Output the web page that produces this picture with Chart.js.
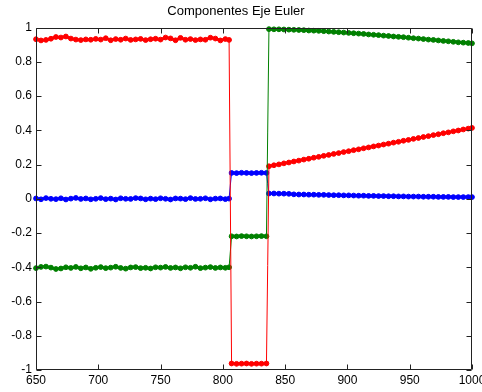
<!DOCTYPE html>
<html><head><meta charset="utf-8">
<script src="https://cdn.jsdelivr.net/npm/chart.js@4.4.1/dist/chart.umd.min.js"></script>
<style>html,body{margin:0;padding:0;background:#fff;overflow:hidden}canvas{display:block}</style>
</head><body><canvas id="c" width="482" height="392"></canvas>
<script>
const chartTitle = 'Componentes Eje Euler';
const xTicks = [650, 700, 750, 800, 850, 900, 950, 1000];
const xTickLabels = ['650', '700', '750', '800', '850', '900', '950', '1000'];
const yTicks = [-1, -0.8, -0.6, -0.4, -0.2, 0, 0.2, 0.4, 0.6, 0.8, 1];
const yTickLabels = ['-1', '-0.8', '-0.6', '-0.4', '-0.2', '0', '0.2', '0.4', '0.6', '0.8', '1'];

// segment 1
const x1 = [650,654,658,662,666,670,674,678,682,686,690,694,698,702,706,710,714,718,722,726,730,734,738,742,746,750,754,758,762,766,770,774,778,782,786,790,794,798,802,805];
const red1 = [0.932,0.925,0.928,0.935,0.945,0.942,0.948,0.936,0.930,0.927,0.931,0.929,0.934,0.930,0.938,0.926,0.933,0.929,0.936,0.928,0.931,0.934,0.927,0.932,0.935,0.930,0.942,0.937,0.926,0.940,0.929,0.933,0.927,0.931,0.929,0.941,0.936,0.925,0.933,0.928];
const green1 = [-0.405,-0.398,-0.396,-0.402,-0.410,-0.407,-0.400,-0.404,-0.398,-0.406,-0.401,-0.409,-0.403,-0.399,-0.405,-0.402,-0.397,-0.404,-0.408,-0.401,-0.399,-0.405,-0.403,-0.407,-0.400,-0.402,-0.398,-0.404,-0.401,-0.406,-0.400,-0.403,-0.397,-0.405,-0.402,-0.399,-0.404,-0.401,-0.403,-0.400];
const blue1 = [0.002,-0.003,0.004,0.000,-0.002,0.003,-0.004,0.001,0.005,-0.001,0.002,-0.003,0.000,0.004,-0.002,0.001,-0.004,0.003,0.000,-0.001,0.004,0.002,-0.003,0.001,-0.002,0.003,0.000,-0.004,0.002,0.001,-0.002,0.004,-0.001,0.000,0.003,-0.003,0.001,0.002,-0.002,0.001];

// first transition sample
const xT1 = [806];
const redT1 = [-0.01];
const greenT1 = [-0.31];
const blueT1 = [0.08];

// segment 2
const x2 = [807,811,815,819,823,827,831,835];
const red2 = [-0.962,-0.964,-0.963,-0.962,-0.964,-0.963,-0.963,-0.962];
const green2 = [-0.219,-0.220,-0.218,-0.219,-0.220,-0.219,-0.218,-0.219];
const blue2 = [0.151,0.150,0.152,0.151,0.150,0.151,0.152,0.151];

// second transition sample
const xT2 = [836];
const redT2 = [-0.39];
const greenT2 = [0.39];
const blueT2 = [0.09];

// segment 3
const x3 = [837,841,845,849,853,857,861,865,869,873,877,881,885,889,893,897,901,905,909,913,917,921,925,929,933,937,941,945,949,953,957,961,965,969,973,977,981,985,989,993,997,1000];
const red3 = [0.190,0.196,0.201,0.207,0.212,0.218,0.223,0.229,0.234,0.240,0.245,0.251,0.256,0.262,0.267,0.273,0.278,0.284,0.289,0.295,0.300,0.306,0.311,0.317,0.322,0.328,0.333,0.339,0.344,0.350,0.355,0.361,0.366,0.372,0.377,0.383,0.388,0.394,0.399,0.405,0.410,0.414];
const green3 = [0.991,0.990,0.990,0.989,0.988,0.987,0.986,0.985,0.983,0.982,0.981,0.979,0.977,0.975,0.973,0.971,0.969,0.967,0.965,0.963,0.960,0.958,0.956,0.953,0.951,0.948,0.946,0.944,0.941,0.938,0.936,0.933,0.930,0.928,0.925,0.922,0.920,0.917,0.914,0.912,0.910,0.908];
const blue3 = [0.031,0.031,0.030,0.030,0.029,0.026,0.025,0.025,0.024,0.024,0.023,0.023,0.022,0.021,0.021,0.020,0.020,0.019,0.018,0.018,0.017,0.017,0.016,0.016,0.015,0.015,0.014,0.014,0.013,0.013,0.013,0.012,0.012,0.012,0.011,0.011,0.011,0.010,0.010,0.010,0.010,0.010];

const RED = '#ff0000', GREEN = '#008000', BLUE = '#0000ff';
const FONT = '"Liberation Sans", Arial, Helvetica, sans-serif';

function pts(xs, ys) { return xs.map((x, i) => ({x: x, y: ys[i]})); }
function gap(xs) { return xs.map(x => ({x: x, y: null})); }

function lineSet(color, a, t1, b, t2, c) {
  return {
    data: pts(x1, a).concat(pts(xT1, t1), pts(x2, b), pts(xT2, t2), pts(x3, c)),
    showLine: true, borderColor: color, borderWidth: 1, pointRadius: 0, fill: false, clip: false
  };
}
function markerSet(color, a, b, c) {
  return {
    data: pts(x1, a).concat(gap(xT1), pts(x2, b), gap(xT2), pts(x3, c)),
    showLine: true, spanGaps: false, borderWidth: 3, fill: false,
    pointStyle: 'circle', pointRadius: 2.4, pointBorderWidth: 1,
    pointBackgroundColor: color, pointBorderColor: color, borderColor: color, clip: false
  };
}

const frame = {
  id: 'frame',
  afterDraw(chart) {
    const {ctx, chartArea: a, scales} = chart;
    const L = Math.round(a.left) + 0.5, R = Math.round(a.right) - 0.5;
    const T = Math.round(a.top) + 0.5, B = Math.round(a.bottom) - 0.5;
    ctx.save();
    ctx.strokeStyle = '#222';
    ctx.lineWidth = 1;
    ctx.beginPath();
    ctx.rect(L, T, R - L, B - T);
    xTicks.forEach(v => {
      const px = Math.round(scales.x.getPixelForValue(v)) + 0.5;
      ctx.moveTo(px, B); ctx.lineTo(px, B - 5);
      ctx.moveTo(px, T); ctx.lineTo(px, T + 5);
    });
    yTicks.forEach(v => {
      const py = Math.round(scales.y.getPixelForValue(v)) + 0.5;
      ctx.moveTo(L, py); ctx.lineTo(L + 5, py);
      ctx.moveTo(R, py); ctx.lineTo(R - 5, py);
    });
    ctx.stroke();
    ctx.restore();
  }
};

new Chart(document.getElementById('c'), {
  type: 'scatter',
  data: {
    datasets: [
      lineSet(RED, red1, redT1, red2, redT2, red3),
      lineSet(GREEN, green1, greenT1, green2, greenT2, green3),
      lineSet(BLUE, blue1, blueT1, blue2, blueT2, blue3),
      markerSet(RED, red1, red2, red3),
      markerSet(GREEN, green1, green2, green3),
      markerSet(BLUE, blue1, blue2, blue3)
    ]
  },
  options: {
    responsive: false,
    animation: false,
    layout: {padding: {left: 0, right: 10, top: 0, bottom: 0}},
    plugins: {
      legend: {display: false},
      tooltip: {enabled: false},
      title: {
        display: true, text: chartTitle, color: '#000',
        font: {family: FONT, size: 13, weight: 'normal'},
        padding: {top: 4, bottom: 8}
      }
    },
    scales: {
      x: {
        type: 'linear', min: 650, max: 1000,
        afterBuildTicks: s => { s.ticks = xTicks.map(v => ({value: v})); },
        afterFit: s => { s.height = 22; s.paddingLeft = 0; s.paddingRight = 0; },
        ticks: {
          callback: v => xTickLabels[xTicks.indexOf(v)],
          color: '#000', font: {family: FONT, size: 12}, padding: 3,
          maxRotation: 0, autoSkip: false
        },
        grid: {display: false, drawTicks: false},
        border: {display: false}
      },
      y: {
        type: 'linear', min: -1, max: 1,
        afterBuildTicks: s => { s.ticks = yTicks.map(v => ({value: v})); },
        afterFit: s => { s.width = 36; s.paddingTop = 0; s.paddingBottom = 0; },
        ticks: {
          callback: v => yTickLabels[yTicks.findIndex(t => Math.abs(t - v) < 1e-9)],
          color: '#000', font: {family: FONT, size: 12}, padding: 4,
          autoSkip: false
        },
        grid: {display: false, drawTicks: false},
        border: {display: false}
      }
    }
  },
  plugins: [frame]
});
</script>
</body></html>
